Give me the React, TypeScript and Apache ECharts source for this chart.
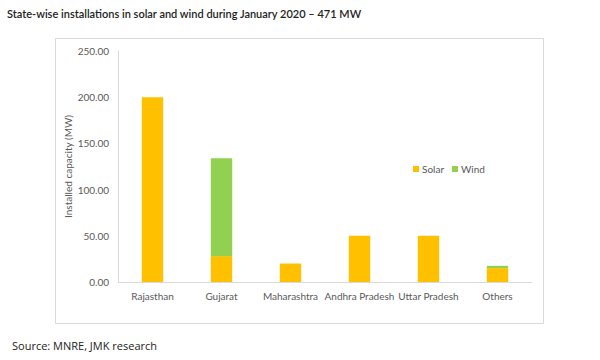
import React, { useEffect, useRef } from "react";
import * as echarts from "echarts";

const categories = ["Rajasthan", "Gujarat", "Maharashtra", "Andhra Pradesh", "Uttar Pradesh", "Others"];
const solarValues = [200, 28, 20, 50, 50, 15];
const windValues = [0, 106, 0, 0, 0, 2.5];
const yTicks = { min: 0, max: 250, interval: 50 };

export default function App() {
  const ref = useRef<HTMLDivElement>(null);
  useEffect(() => {
    const chart = echarts.init(ref.current!, null, { renderer: "svg" });
    const font = "Lato, sans-serif";
    chart.setOption({
      animation: false,
      backgroundColor: "#ffffff",
      textStyle: { fontFamily: font },
      graphic: [
        {
          type: "rect",
          shape: { x: 55.5, y: 38.5, width: 488, height: 285 },
          style: { fill: "none", stroke: "#d9d9d9", lineWidth: 1 },
          z: -1,
        },
        {
          type: "text",
          left: 7,
          top: 8,
          style: {
            text: "State-wise installations in solar and wind during January 2020 – 471 MW",
            font: "600 11px Lato, sans-serif",
            fill: "#222222",
          },
        },
        {
          type: "text",
          left: 12,
          top: 340,
          style: {
            text: "Source: MNRE, JMK research",
            font: "400 11px 'Open Sans', sans-serif",
            fill: "#222222",
          },
        },
      ],
      legend: {
        left: 408,
        top: 159,
        itemWidth: 6,
        itemHeight: 6,
        itemGap: 8,
        icon: "rect",
        textStyle: { color: "#595959", fontSize: 10, fontFamily: font, padding: [0, 0, 0, -2] },
        data: ["Solar", "Wind"],
      },
      grid: { left: 118, right: 68, top: 51, bottom: 78, containLabel: false },
      xAxis: {
        type: "category",
        data: categories,
        axisLine: { lineStyle: { color: "#d9d9d9" } },
        axisTick: { show: false },
        axisLabel: { color: "#595959", fontSize: 10, margin: 9, fontFamily: font, interval: 0 },
      },
      yAxis: {
        type: "value",
        min: yTicks.min,
        max: yTicks.max,
        interval: yTicks.interval,
        name: "Installed capacity (MW)",
        nameLocation: "middle",
        nameGap: 45,
        nameMoveOverlap: false,
        nameTextStyle: { color: "#595959", fontSize: 10, fontFamily: font },
        axisLine: { show: true, lineStyle: { color: "#d9d9d9" } },
        axisTick: { show: false },
        splitLine: { show: false },
        axisLabel: {
          color: "#595959",
          fontSize: 10,
          margin: 9,
          fontFamily: font,
          formatter: (v: number) => v.toFixed(2),
        },
      },
      series: [
        {
          name: "Solar",
          type: "bar",
          stack: "total",
          data: solarValues,
          barWidth: "31%",
          itemStyle: { color: "#FFC000" },
        },
        {
          name: "Wind",
          type: "bar",
          stack: "total",
          data: windValues,
          barWidth: "31%",
          itemStyle: { color: "#92D050" },
        },
      ],
    });
    return () => chart.dispose();
  }, []);
  return (
    <div
      ref={ref}
      style={{ position: "fixed", left: 0, top: 0, width: 600, height: 360, background: "#fff" }}
    />
  );
}
